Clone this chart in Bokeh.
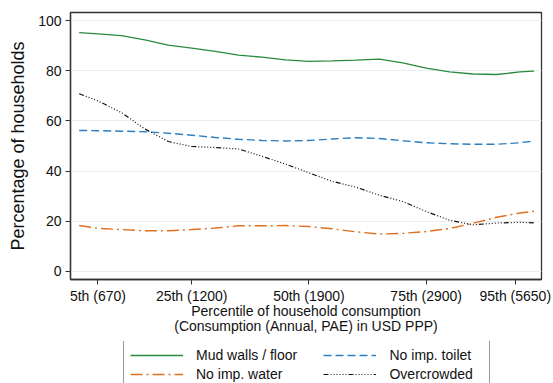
from bokeh.plotting import figure
from bokeh.models import Legend, LegendItem, FixedTicker
from bokeh.layouts import column
from bokeh.embed import file_html
from bokeh.resources import INLINE

# ---- data ----
percentile = [1, 5, 10, 15, 20, 25, 30, 35, 40, 45, 50, 55, 60, 65, 70, 75, 80, 85, 90, 95, 98]
mud_walls = [95.2, 94.7, 94.0, 92.3, 90.2, 89.0, 87.7, 86.2, 85.4, 84.3, 83.7, 83.9, 84.2, 84.6, 83.1,
             81.0, 79.5, 78.7, 78.5, 79.5, 79.8]
no_toilet = [56.2, 56.1, 55.9, 55.7, 55.1, 54.3, 53.4, 52.7, 52.2, 52.0, 52.2, 52.8, 53.3, 53.0, 52.1,
             51.3, 50.9, 50.7, 50.7, 51.3, 52.0]
no_water = [18.3, 17.2, 16.7, 16.2, 16.2, 16.7, 17.3, 18.2, 18.2, 18.3, 17.9, 17.0, 15.8, 14.9, 15.2,
            15.9, 17.1, 19.2, 21.6, 23.3, 24.0]
overcrowded = [70.8, 68.0, 63.3, 56.8, 51.8, 49.8, 49.4, 48.8, 45.9, 42.8, 39.3, 35.9, 33.6, 30.4, 27.9,
               23.9, 20.4, 18.6, 19.3, 19.6, 19.4]

series_labels = ["Mud walls / floor", "No imp. water", "No imp. toilet", "Overcrowded"]
tick_pos = [5, 25, 50, 75, 94]
tick_labels = ["5th (670)", "25th (1200)", "50th (1900)", "75th (2900)", "95th (5650)"]
y_ticks = [0, 20, 40, 60, 80, 100]

FONT = "Liberation Sans"
STYLES = {
    "mud": dict(line_color="#2a8a3e", line_width=1.3),
    "water": dict(line_color="#e0701e", line_width=1.4, line_dash="12 4 2 4"),
    "toilet": dict(line_color="#2b7fc0", line_width=1.4, line_dash="8 4"),
    "crowd": dict(line_color="#111111", line_width=1.2, line_dash="5 2 1 2 1 2 1 2 1 2 1 2 1 2"),
}

p = figure(width=553, height=341, x_range=(-0.85, 99.6), y_range=(-3.2, 103.2),
           output_backend="svg", toolbar_location=None,
           min_border_left=70, min_border_right=12, min_border_top=12, min_border_bottom=62)
p.background_fill_color = "white"
p.border_fill_color = "white"
p.outline_line_color = "#333333"
p.outline_line_width = 1.3

p.line(percentile, mud_walls, **STYLES["mud"])
p.line(percentile, no_toilet, **STYLES["toilet"])
p.line(percentile, no_water, **STYLES["water"])
p.line(percentile, overcrowded, **STYLES["crowd"])

# axes
p.xaxis.ticker = FixedTicker(ticks=tick_pos)
p.xaxis.major_label_overrides = {t: l for t, l in zip(tick_pos, tick_labels)}
p.yaxis.ticker = FixedTicker(ticks=y_ticks)
for ax in (p.xaxis[0], p.yaxis[0]):
    ax.axis_line_color = "#333333"
    ax.axis_line_width = 1.3
    ax.major_tick_line_color = "#333333"
    ax.major_tick_out = 5
    ax.major_tick_in = 0
    ax.minor_tick_out = 0
    ax.minor_tick_in = 0
    ax.major_label_text_font = FONT
    ax.major_label_text_font_size = "14px"
    ax.major_label_text_color = "#111111"
    ax.axis_label_text_font = FONT
    ax.axis_label_text_font_style = "normal"
    ax.axis_label_text_color = "#111111"

p.yaxis.axis_label = "Percentage of households"
p.yaxis.axis_label_text_font_size = "18px"
p.yaxis.major_label_standoff = 4
p.yaxis.axis_label_standoff = 7
p.yaxis.major_label_orientation = "horizontal"

p.xaxis.axis_label = "Percentile of household consumption\n(Consumption (Annual, PAE) in USD PPP)"
p.xaxis.axis_label_text_font_size = "14px"
p.xaxis.axis_label_text_line_height = 0.95
p.xaxis.major_label_standoff = 3
p.xaxis.axis_label_standoff = -4

p.xgrid.visible = False
p.ygrid.grid_line_color = "#e6eff1"
p.ygrid.grid_line_width = 1

# ---- legend strip (two columns, boxed) ----
LG_H = 42
lg = figure(width=553, height=LG_H, x_range=(0, 1), y_range=(0, 1), output_backend="svg",
            toolbar_location=None, x_axis_type=None, y_axis_type=None,
            min_border_left=70, min_border_right=12, min_border_top=0, min_border_bottom=0)
lg.outline_line_color = None
lg.xgrid.visible = False
lg.ygrid.grid_line_color = None
lg.background_fill_color = "white"
lg.border_fill_color = "white"
# keys only: the lines lie outside the visible range of this strip
renderers = [lg.line([-5, -4], [-5, -5], **STYLES[k]) for k in ("mud", "water", "toilet", "crowd")]
labels = [series_labels[0] + "      ", series_labels[1], series_labels[2] + "   ", series_labels[3]]
legend = Legend(items=[LegendItem(label=l, renderers=[r]) for l, r in zip(labels, renderers)],
                ncols=2, location=(53, LG_H - 1 - 47), orientation="vertical",
                glyph_width=53, glyph_height=16, label_height=16, label_standoff=13, spacing=3,
                padding=6, margin=0, label_text_font=FONT, label_text_font_size="14px",
                label_text_color="#111111", border_line_color="#333333", border_line_width=1.2,
                background_fill_color="white", background_fill_alpha=1.0)
lg.add_layout(legend, "center")

layout = column(p, lg, spacing=0)
open("out.html", "w").write(file_html(layout, INLINE))
